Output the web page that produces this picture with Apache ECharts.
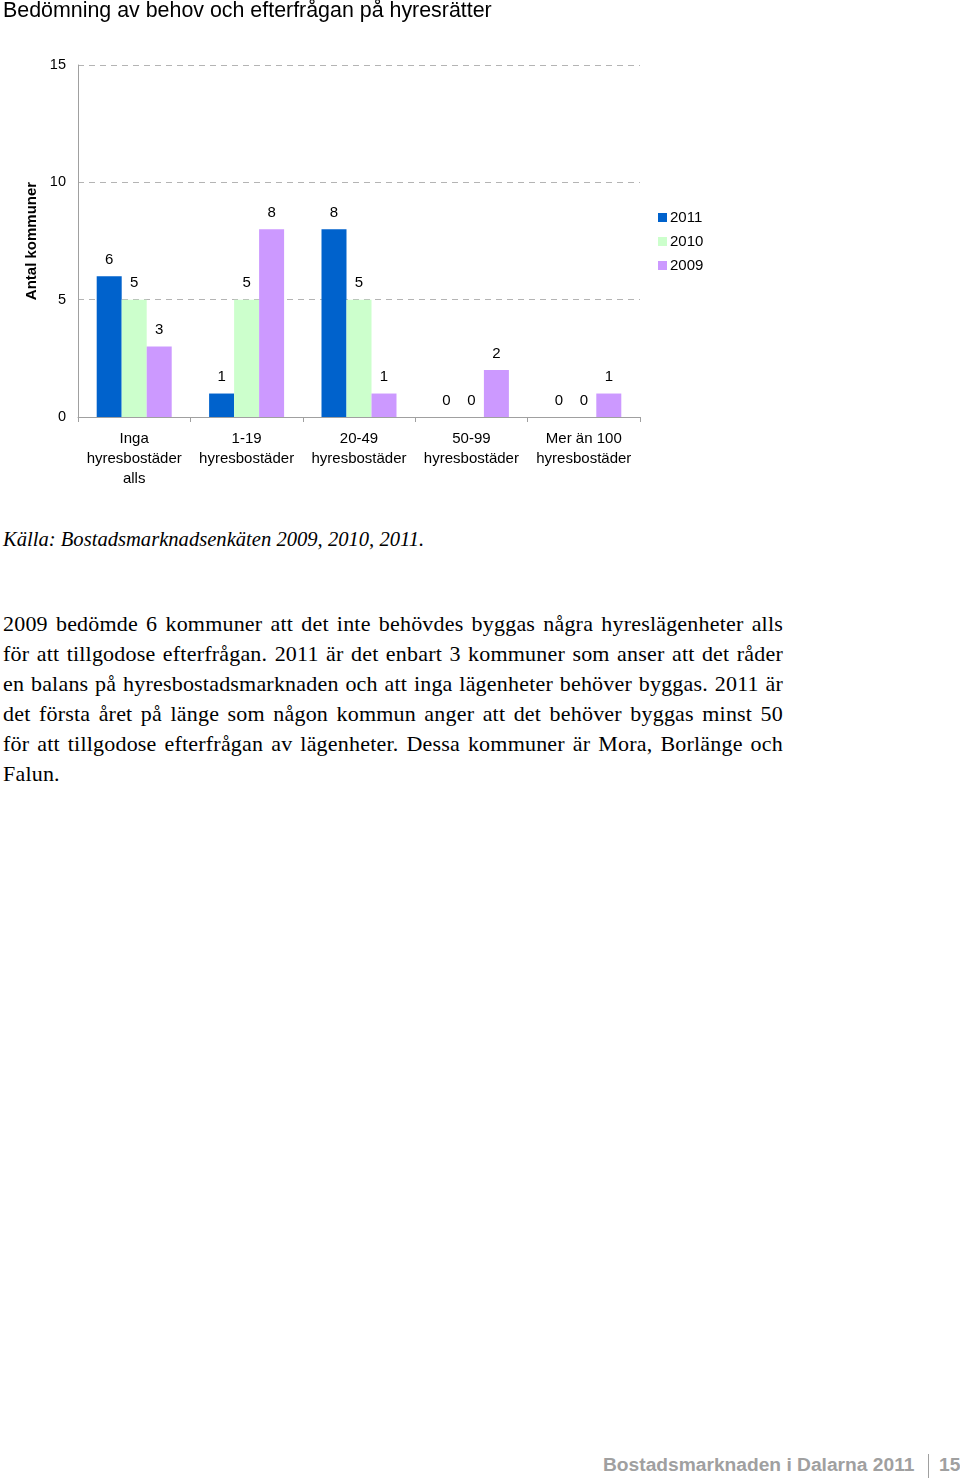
<!DOCTYPE html>
<html><head><meta charset="utf-8">
<script src="https://cdn.jsdelivr.net/npm/echarts@6/dist/echarts.min.js"></script>
<style>
html,body{margin:0;padding:0;background:#fff;width:960px;height:1479px;overflow:hidden;position:relative;}
#chart{position:absolute;left:0;top:0;width:960px;height:500px;}
.src{position:absolute;left:3px;top:528px;font-family:'Liberation Serif',serif;font-style:italic;font-size:20.6px;color:#000;white-space:nowrap;}
.para{position:absolute;left:3px;top:609px;width:780px;font-family:'Liberation Serif',serif;font-size:22px;line-height:30px;color:#000;letter-spacing:0.2px;}
.para div{text-align:justify;text-align-last:justify;white-space:nowrap;}
.para div.last{text-align-last:left;}
.foot{position:absolute;top:1454px;font-family:'Liberation Sans',Arial,sans-serif;font-weight:bold;font-size:19.2px;color:#a0a0a0;white-space:nowrap;}
.sep{position:absolute;left:928px;top:1454px;width:1px;height:24px;background:#a0a0a0;}
</style></head>
<body>
<div id="chart"></div>
<div class="src">Källa: Bostadsmarknadsenkäten 2009, 2010, 2011.</div>
<div class="para">
<div>2009 bedömde 6 kommuner att det inte behövdes byggas några hyreslägenheter alls</div>
<div>för att tillgodose efterfrågan. 2011 är det enbart 3 kommuner som anser att det råder</div>
<div>en balans på hyresbostadsmarknaden och att inga lägenheter behöver byggas. 2011 är</div>
<div>det första året på länge som någon kommun anger att det behöver byggas minst 50</div>
<div>för att tillgodose efterfrågan av lägenheter. Dessa kommuner är Mora, Borlänge och</div>
<div class="last">Falun.</div>
</div>
<div class="foot" style="left:603px;">Bostadsmarknaden i Dalarna 2011</div>
<div class="sep"></div>
<div class="foot" style="left:939px;">15</div>
<script>
const categories = ['Inga\nhyresbostäder\nalls', '1-19\nhyresbostäder', '20-49\nhyresbostäder', '50-99\nhyresbostäder', 'Mer än 100\nhyresbostäder'];
const values2011 = [6, 1, 8, 0, 0];
const values2010 = [5, 5, 5, 0, 0];
const values2009 = [3, 8, 1, 2, 1];
const yTicks = [0, 5, 10, 15];

const chart = echarts.init(document.getElementById('chart'));
const font = "'Liberation Sans', Arial, sans-serif";
const lbl = {show: true, position: 'top', distance: 9, fontSize: 15, color: '#000', fontFamily: font};
chart.setOption({
  animation: false,
  title: {text: 'Bedömning av behov och efterfrågan på hyresrätter', left: 3, top: 0, padding: [1, 0, 0, 0],
    textStyle: {fontSize: 21.4, fontWeight: 'normal', color: '#000', fontFamily: font}},
  legend: {orient: 'vertical', left: 653, top: 205, itemWidth: 9, itemHeight: 9, itemGap: 9,
    icon: 'rect', textStyle: {fontSize: 15, color: '#000', fontFamily: font, padding: [0,0,0,-2]},
    data: ['2011', '2010', '2009']},
  grid: {left: 78, top: 65, width: 562, height: 352},
  xAxis: {type: 'category', data: categories,
    axisLine: {lineStyle: {color: '#a0a0a0'}},
    axisTick: {show: true, length: 5, lineStyle: {color: '#a0a0a0'}},
    axisLabel: {fontSize: 15, color: '#000', fontFamily: font, lineHeight: 20, margin: 12, interval: 0}},
  yAxis: {type: 'value', min: yTicks[0], max: yTicks[yTicks.length-1], interval: 5,
    name: 'Antal kommuner', nameLocation: 'middle', nameGap: 36, nameRotate: 90,
    nameTextStyle: {fontSize: 15, fontWeight: 'bold', color: '#000', fontFamily: font},
    axisLine: {show: true, lineStyle: {color: '#a0a0a0'}},
    axisTick: {show: false},
    axisLabel: {fontSize: 14.5, color: '#000', fontFamily: font, margin: 12},
    splitLine: {lineStyle: {color: '#b4b4b4', type: [6, 5]}}},
  series: [
    {name: '2011', type: 'bar', data: values2011, barWidth: 25, barGap: '0%', itemStyle: {color: '#0062CC'}, label: lbl},
    {name: '2010', type: 'bar', data: values2010, barWidth: 25, barGap: '0%', itemStyle: {color: '#CCFFCC'}, label: lbl},
    {name: '2009', type: 'bar', data: values2009, barWidth: 25, barGap: '0%', itemStyle: {color: '#CC99FF'}, label: lbl}
  ]
});
</script>
</body></html>
